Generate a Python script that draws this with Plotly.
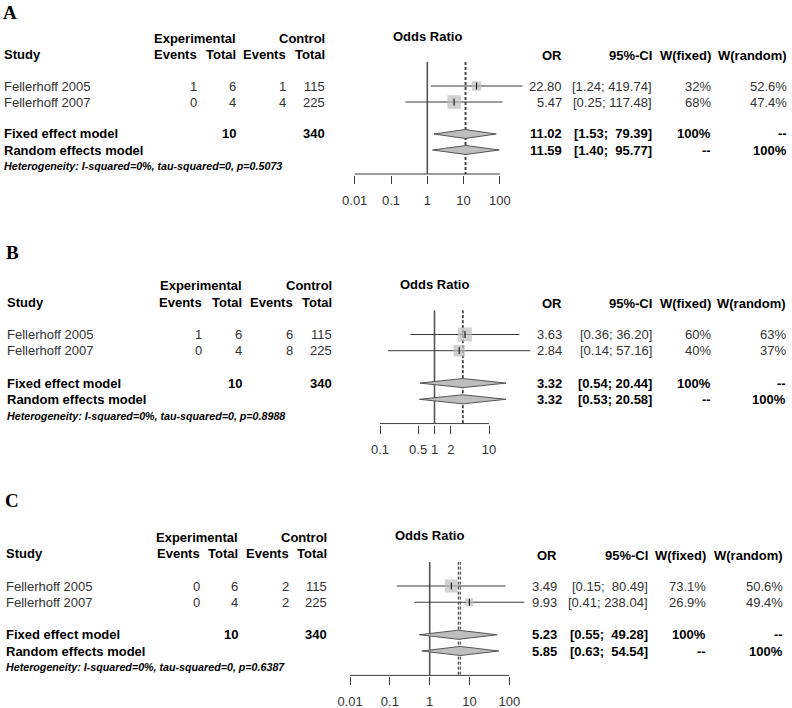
import plotly.graph_objects as go
import math

W, H = 792, 708

# ---------------- data ----------------
studies = ["Fellerhoff 2005", "Fellerhoff 2007"]
panel_names = ["A", "B", "C"]

exp_events_A = [1, 0]
exp_events_B = [1, 0]
exp_events_C = [0, 0]
exp_total = [6, 4]
ctrl_events_A = [1, 4]
ctrl_events_B = [6, 8]
ctrl_events_C = [2, 2]
ctrl_total = [115, 225]

or_A = [22.80, 5.47]
lo_A = [1.24, 0.25]
hi_A = [419.74, 117.48]
wfix_A = [32, 68]
wran_A = [52.6, 47.4]
pooled_A = {"fixed": [11.02, 1.53, 79.39], "random": [11.59, 1.40, 95.77]}
het_p_A = "0.5073"

or_B = [3.63, 2.84]
lo_B = [0.36, 0.14]
hi_B = [36.20, 57.16]
wfix_B = [60, 40]
wran_B = [63, 37]
pooled_B = {"fixed": [3.32, 0.54, 20.44], "random": [3.32, 0.53, 20.58]}
het_p_B = "0.8988"

or_C = [3.49, 9.93]
lo_C = [0.15, 0.41]
hi_C = [80.49, 238.04]
wfix_C = [73.1, 26.9]
wran_C = [50.6, 49.4]
pooled_C = {"fixed": [5.23, 0.55, 49.28], "random": [5.85, 0.63, 54.54]}
het_p_C = "0.6387"

ticks_A = [0.01, 0.1, 1, 10, 100]
ticks_B = [0.1, 0.5, 1, 2, 10]
ticks_C = [0.01, 0.1, 1, 10, 100]
ticktext_A = ["0.01", "0.1", "1", "10", "100"]
ticktext_B = ["0.1", "0.5", "1", "2", "10"]
ticktext_C = ["0.01", "0.1", "1", "10", "100"]

data = {
    "A": dict(ee=exp_events_A, ce=ctrl_events_A, orv=or_A, lo=lo_A, hi=hi_A,
              wf=wfix_A, wr=wran_A, pooled=pooled_A, p=het_p_A,
              ticks=ticks_A, ticktext=ticktext_A),
    "B": dict(ee=exp_events_B, ce=ctrl_events_B, orv=or_B, lo=lo_B, hi=hi_B,
              wf=wfix_B, wr=wran_B, pooled=pooled_B, p=het_p_B,
              ticks=ticks_B, ticktext=ticktext_B),
    "C": dict(ee=exp_events_C, ce=ctrl_events_C, orv=or_C, lo=lo_C, hi=hi_C,
              wf=wfix_C, wr=wran_C, pooled=pooled_C, p=het_p_C,
              ticks=ticks_C, ticktext=ticktext_C),
}

# ---------------- layout / style (pixel geometry) ----------------
style = {
    "A": dict(x0=427.3, xs=36.3, row1=86.0, rowh=16.0,
              left=[4, 197, 236, 285.7, 325], right=[561.7, 652, 711, 786.7],
              label_row=-3.6, sq=16.5),
    "B": dict(x0=434.5, xs=54.5, row1=334.5, rowh=16.2,
              left=[7.3, 201.7, 241.7, 292.7, 331.7], right=[562.3, 652.3, 711, 786],
              label_row=-4.05, sq=18),
    "C": dict(x0=429.7, xs=39.83, row1=586.0, rowh=16.25,
              left=[6, 200, 237.7, 289.3, 327.3], right=[557.3, 648.3, 706, 783.3],
              label_row=-4.29, sq=15),
}

FONT = "Liberation Sans, Arial, sans-serif"
FS = 13
REG = "#333333"
BLD = "#000000"
LINE = "#3a3a3a"
GRAYFILL = "#BEBEBE"

ROW_STUDY = [1, 2]
ROW_FIXED = 4
ROW_RANDOM = 5
ROW_TOP = -0.5
ROW_BASE = 6.5
Y_BOTTOM = 6.56

fig = go.Figure()
annotations = []
layout_axes = {}


def fmt_ci(lo, hi, wlo, whi):
    a = f"{lo:.2f}"
    b = f"{hi:.2f}"
    a = "\u00a0" * (wlo - len(a)) + a
    b = "\u00a0" * (whi - len(b)) + b
    return f"[{a};\u00a0{b}]"


for i, name in enumerate(panel_names):
    d = data[name]
    s = style[name]
    sfx = "" if i == 0 else str(i + 1)
    xa, ya = "x" + sfx, "y" + sfx

    def row_px(r, s=s):
        return s["row1"] + (r - 1) * s["rowh"]

    # axes
    xd0, xd1 = 335.0, 562.0
    lo_log = (xd0 - s["x0"]) / s["xs"]
    hi_log = (xd1 - s["x0"]) / s["xs"]
    ytop_px = row_px(ROW_TOP)
    ybot_px = row_px(Y_BOTTOM)
    layout_axes["xaxis" + sfx] = dict(
        type="log", range=[lo_log, hi_log], domain=[xd0 / W, xd1 / W],
        anchor=ya, showgrid=False, zeroline=False, showline=False,
        ticks="outside", ticklen=8, tickwidth=1, tickcolor=LINE,
        tickvals=d["ticks"], ticktext=d["ticktext"],
        tickfont=dict(family=FONT, size=FS, color=REG),
        ticklabelstandoff=5, fixedrange=True,
    )
    layout_axes["yaxis" + sfx] = dict(
        range=[Y_BOTTOM, ROW_TOP], domain=[1 - ybot_px / H, 1 - ytop_px / H],
        anchor=xa, visible=False, fixedrange=True,
    )

    # baseline of the axis
    fig.add_trace(go.Scatter(x=[d["ticks"][0], d["ticks"][-1]], y=[ROW_BASE, ROW_BASE],
                             mode="lines", line=dict(color=LINE, width=1),
                             xaxis=xa, yaxis=ya, hoverinfo="skip", showlegend=False))
    # null line
    fig.add_trace(go.Scatter(x=[1, 1], y=[ROW_TOP, ROW_BASE], mode="lines",
                             line=dict(color="#555555", width=1.6),
                             xaxis=xa, yaxis=ya, hoverinfo="skip", showlegend=False))
    # dashed lines at pooled estimates
    for key in ["fixed", "random"]:
        est = d["pooled"][key][0]
        fig.add_trace(go.Scatter(x=[est, est], y=[ROW_TOP, ROW_BASE], mode="lines",
                                 line=dict(color="#222222", width=1, dash="3px,2px"),
                                 xaxis=xa, yaxis=ya, hoverinfo="skip", showlegend=False))

    # study CIs, squares, ticks
    for j in range(len(studies)):
        fig.add_trace(go.Scatter(x=[d["lo"][j], d["hi"][j]], y=[ROW_STUDY[j]] * 2,
                                 mode="lines", line=dict(color=LINE, width=1),
                                 xaxis=xa, yaxis=ya, hoverinfo="skip", showlegend=False))
    fig.add_trace(go.Scatter(
        x=d["orv"], y=ROW_STUDY, mode="markers",
        marker=dict(symbol="square", color=GRAYFILL,
                    size=[s["sq"] * math.sqrt(w / 100) for w in d["wf"]],
                    line=dict(width=0)),
        xaxis=xa, yaxis=ya, hoverinfo="skip", showlegend=False))
    fig.add_trace(go.Scatter(
        x=d["orv"], y=ROW_STUDY, mode="markers",
        marker=dict(symbol="line-ns", size=5, line=dict(color="#000000", width=1)),
        xaxis=xa, yaxis=ya, hoverinfo="skip", showlegend=False))

    # diamonds
    hh = 0.28
    for key, row in [("fixed", ROW_FIXED), ("random", ROW_RANDOM)]:
        est, lo, hi = d["pooled"][key]
        fig.add_trace(go.Scatter(
            x=[lo, est, hi, est, lo], y=[row, row - hh, row, row + hh, row],
            mode="lines", fill="toself", fillcolor=GRAYFILL,
            line=dict(color="#555555", width=1),
            xaxis=xa, yaxis=ya, hoverinfo="skip", showlegend=False))

    # ---------------- text ----------------
    def ann(text, xpx, row, anchor, size=FS, color=REG, xref="paper", x=None,
            family=FONT):
        annotations.append(dict(
            text=text, x=(xpx / W if x is None else x), y=1 - row_px(row) / H,
            xref=xref, yref="paper",
            xanchor=anchor, yanchor="middle", showarrow=False,
            font=dict(family=family, size=size, color=color),
            borderpad=0, borderwidth=0))

    L = s["left"]
    R = s["right"]
    ann("<b>" + name + "</b>", L[0] - 1, s["label_row"], "left", size=19, color="#000",
        family="Liberation Serif, Times New Roman, serif")
    # headers
    ann("<b>Experimental</b>", L[2], -2, "right", color=BLD)
    ann("<b>Control</b>", L[4], -2, "right", color=BLD)
    ann("<b>Study</b>", L[0], -1, "left", color=BLD)
    ann("<b>Events</b>", L[1], -1, "right", color=BLD)
    ann("<b>Total</b>", L[2], -1, "right", color=BLD)
    ann("<b>Events</b>", L[3], -1, "right", color=BLD)
    ann("<b>Total</b>", L[4], -1, "right", color=BLD)
    ann("<b>Odds Ratio</b>", 0, -2.1, "center", color=BLD, xref=xa, x=0)
    ann("<b>OR</b>", R[0], -0.9, "right", color=BLD)
    ann("<b>95%-CI</b>", R[1], -0.9, "right", color=BLD)
    ann("<b>W(fixed)</b>", R[2], -0.9, "right", color=BLD)
    ann("<b>W(random)</b>", R[3], -0.9, "right", color=BLD)

    all_lo = d["lo"] + [d["pooled"][k][1] for k in ("fixed", "random")]
    all_hi = d["hi"] + [d["pooled"][k][2] for k in ("fixed", "random")]
    wlo = max(len(f"{v:.2f}") for v in all_lo)
    whi = max(len(f"{v:.2f}") for v in all_hi)

    for j, st in enumerate(studies):
        r = ROW_STUDY[j]
        ann(st, L[0], r, "left")
        ann(str(d["ee"][j]), L[1], r, "right")
        ann(str(exp_total[j]), L[2], r, "right")
        ann(str(d["ce"][j]), L[3], r, "right")
        ann(str(ctrl_total[j]), L[4], r, "right")
        ann(f"{d['orv'][j]:.2f}", R[0], r, "right")
        ann(fmt_ci(d["lo"][j], d["hi"][j], wlo, whi), R[1], r, "right")
        ann(f"{d['wf'][j]:g}%", R[2], r, "right")
        ann(f"{d['wr'][j]:g}%", R[3], r, "right")

    ann("<b>Fixed effect model</b>", L[0], ROW_FIXED, "left", color=BLD)
    ann(f"<b>{sum(exp_total)}</b>", L[2], ROW_FIXED, "right", color=BLD)
    ann(f"<b>{sum(ctrl_total)}</b>", L[4], ROW_FIXED, "right", color=BLD)
    ann("<b>Random effects model</b>", L[0], ROW_RANDOM, "left", color=BLD)
    for key, row, wf, wr in [("fixed", ROW_FIXED, "100%", "--"),
                             ("random", ROW_RANDOM, "--", "100%")]:
        est, lo, hi = d["pooled"][key]
        ann(f"<b>{est:.2f}</b>", R[0], row, "right", color=BLD)
        ann("<b>" + fmt_ci(lo, hi, wlo, whi) + "</b>", R[1], row, "right", color=BLD)
        ann(f"<b>{wf}</b>", R[2], row, "right", color=BLD)
        ann(f"<b>{wr}</b>", R[3], row, "right", color=BLD)
    ann(f"<b><i>Heterogeneity: I-squared=0%, tau-squared=0, p={d['p']}</i></b>",
        L[0], 6.0, "left", size=10.7, color=BLD)

fig.update_layout(
    width=W, height=H, margin=dict(l=0, r=0, t=0, b=0),
    paper_bgcolor="white", plot_bgcolor="rgba(0,0,0,0)",
    showlegend=False, annotations=annotations, **layout_axes,
)

fig.write_html("out.html", config={"displayModeBar": False},
               post_script="document.body.style.margin='0px';")
